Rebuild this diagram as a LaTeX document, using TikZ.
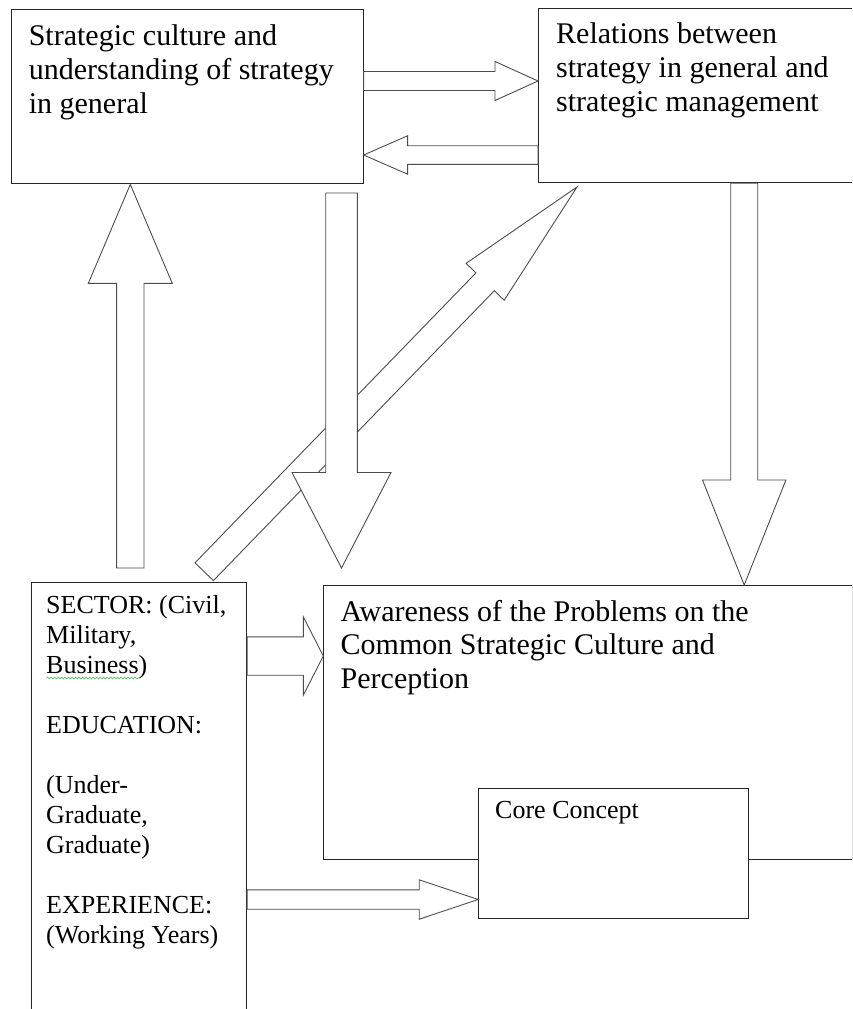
\documentclass[tikz,border=0pt]{standalone}
\usepackage{fontspec}
\setmainfont{Liberation Serif}
\usetikzlibrary{calc,decorations.pathmorphing}
\definecolor{squiggle}{RGB}{70,175,70}
\tikzset{
  box/.style={draw=black!85, line width=1.1pt, fill=white, rectangle, inner sep=0pt, anchor=north west},
  barrow/.style={draw=black!70, line width=0.9pt, fill=white, line join=miter},
  bigtext/.style={anchor=base west, inner sep=0pt, font=\fontsize{30}{34}\selectfont},
  bigtextb/.style={anchor=base west, inner sep=0pt, font=\fontsize{30}{33.7}\selectfont},
  smalltext/.style={anchor=base west, inner sep=0pt, font=\fontsize{26}{30}\selectfont},
  squig/.style={draw=squiggle, line width=0.6pt, decorate, decoration={snake, amplitude=0.9pt, segment length=3.5pt}},
}
\newcommand{\blockarr}[5]{%
  \coordinate (bah) at ($(#2)!#5!(#1)$);
  \draw[barrow] ($(#1)!#3!90:(#2)$) -- ($(bah)!#3!90:(#2)$) -- ($(bah)!#4!90:(#2)$) -- (#2)
    -- ($(bah)!#4!-90:(#2)$) -- ($(bah)!#3!-90:(#2)$) -- ($(#1)!#3!-90:(#2)$) -- cycle;
}
\begin{document}
\begin{tikzpicture}[x=1pt,y=-1pt]
\clip (0,0) rectangle (852,1009);
\fill[white] (0,0) rectangle (852,1009);

% boxes
\node[box, minimum width=351.8pt, minimum height=174.3pt] (A) at (10.7,9) {};
\node[box, minimum width=342pt, minimum height=174pt] (B) at (538,8) {};
\node[box, minimum width=215.3pt, minimum height=460pt] (C) at (30.7,581.5) {};
\node[box, minimum width=528.2pt, minimum height=274.3pt] (D) at (323.3,585) {};
\node[box, minimum width=269.7pt, minimum height=130pt] (E) at (478.2,788.3) {};

% texts
\node[bigtext] (At) at (28.6,45) {\parbox[t]{330pt}{Strategic culture and\\understanding of strategy\\in general}};
\node[bigtext] (Bt) at (556,43.5) {\parbox[t]{300pt}{Relations between\\strategy in general and\\strategic management}};
\node[bigtextb] (Dt) at (340.5,621) {\parbox[t]{480pt}{Awareness of the Problems on the\\Common Strategic Culture and\\Perception}};
\node[smalltext] (Ct) at (46,613) {\parbox[t]{200pt}{SECTOR: (Civil,\\Military,\\Business)\\[30pt]EDUCATION:\\[30pt](Under-\\Graduate,\\Graduate)\\[30pt]EXPERIENCE:\\(Working Years)}};
\node[smalltext] (Et) at (495,818.3) {Core Concept};
\draw[squig] (46.5,678) -- (139,678);

% arrows between top boxes
\coordinate (ab1) at (A.east |- 0,81);
\coordinate (ab2) at (B.west |- 0,81);
\blockarr{ab1}{ab2}{9.5pt}{19.5pt}{43pt}
\coordinate (ba1) at (B.west |- 0,155);
\coordinate (ba2) at (A.east |- 0,155);
\blockarr{ba1}{ba2}{9.3pt}{19.2pt}{44pt}

% up arrow from sector box to A
\coordinate (up1) at (130.3,568);
\coordinate (up2) at (130.3,0 |- A.south);
\blockarr{up1}{up2}{13.7pt}{42pt}{99pt}

% diagonal arrow from sector box to B
\coordinate (dg1) at (204.2,571.7);
\coordinate (dg2) at (577,187);
\blockarr{dg1}{dg2}{12.8pt}{26.5pt}{132pt}

% down arrow from A to awareness
\coordinate (dn1) at (341.5,193);
\coordinate (dn2) at (341.5,568);
\blockarr{dn1}{dn2}{15.8pt}{49.5pt}{95.5pt}

% down arrow from B to awareness
\coordinate (bd1) at (744.2,0 |- B.south);
\coordinate (bd2) at (744.2,0 |- D.north);
\blockarr{bd1}{bd2}{13.5pt}{41.7pt}{105pt}

% arrows from sector box
\coordinate (cd1) at (C.east |- 0,656);
\coordinate (cd2) at (D.west |- 0,656);
\blockarr{cd1}{cd2}{19.2pt}{39.2pt}{20pt}
\coordinate (ce1) at (C.east |- 0,899.5);
\coordinate (ce2) at (E.west |- 0,899.5);
\blockarr{ce1}{ce2}{9.7pt}{19.7pt}{59pt}
\end{tikzpicture}
\end{document}
